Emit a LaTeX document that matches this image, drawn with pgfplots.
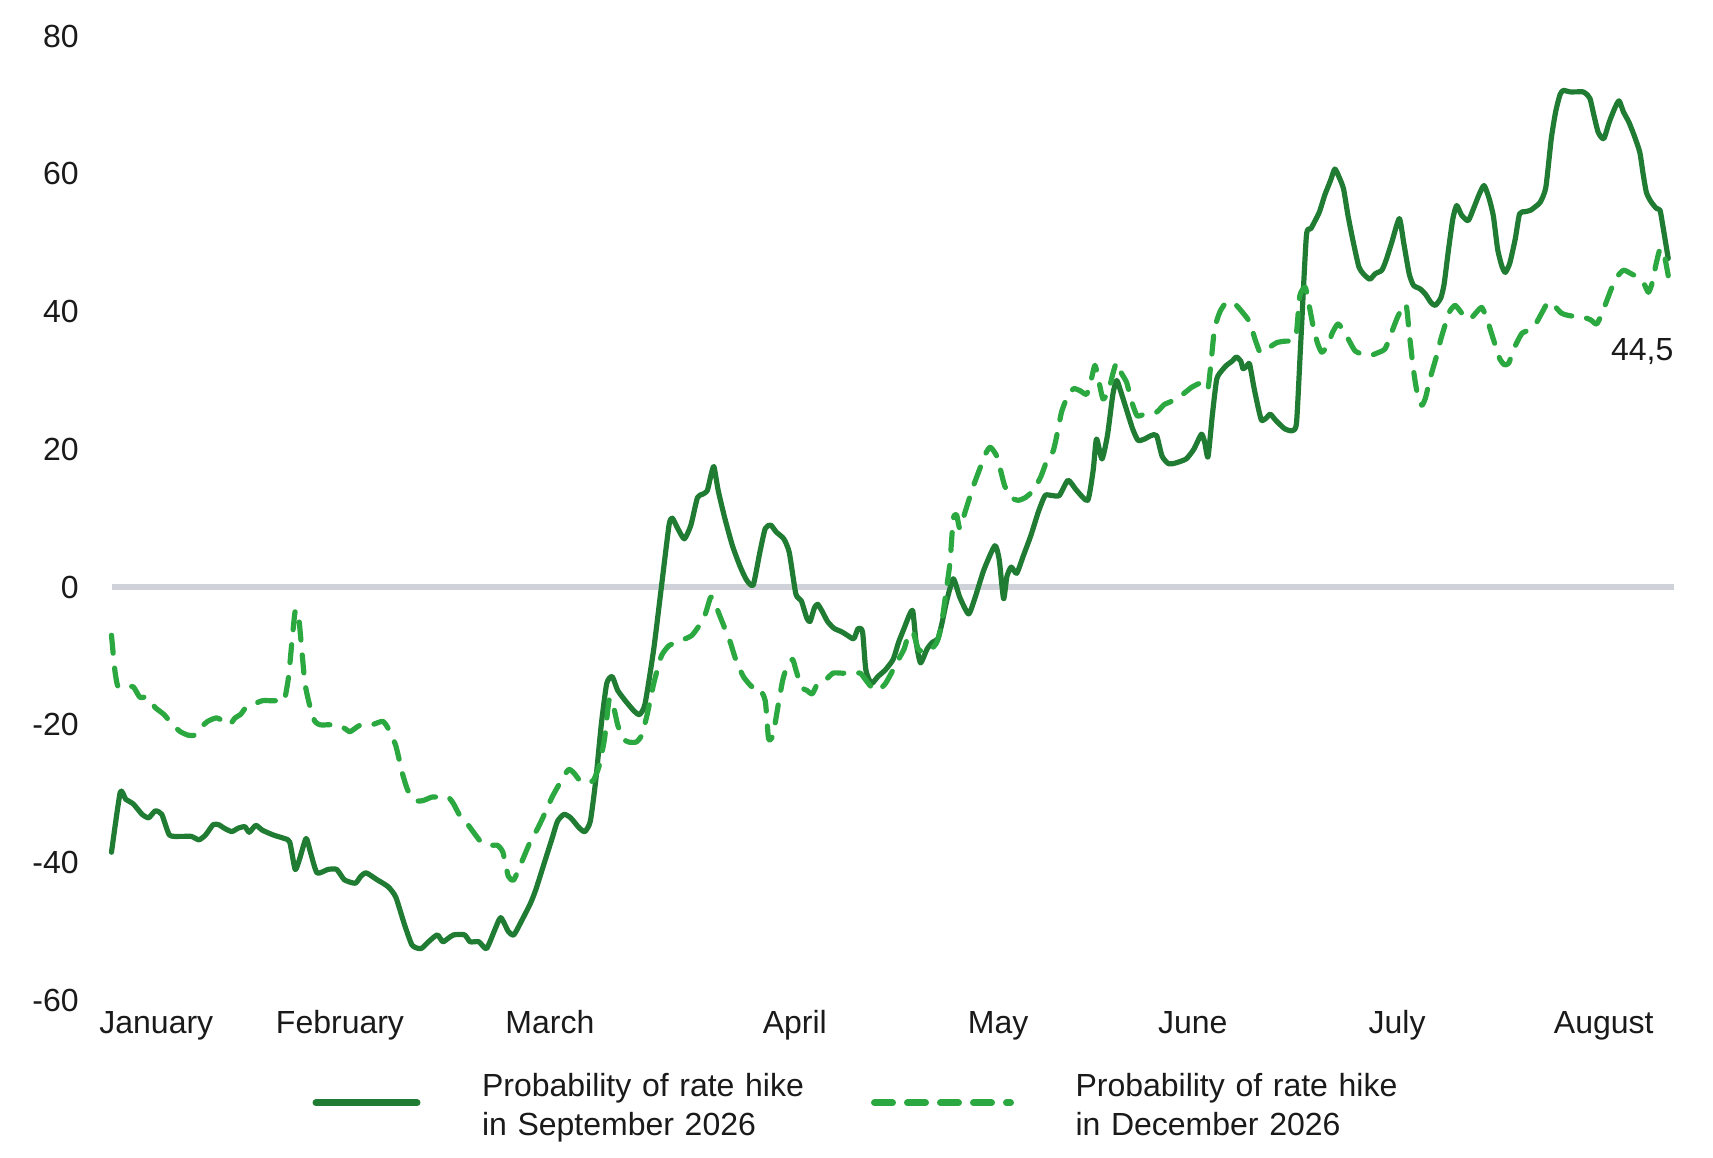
\documentclass[border=0pt]{standalone}
\usepackage{fontspec}
\setmainfont{Liberation Sans}
\usepackage{pgfplots}
\pgfplotsset{compat=1.18}
\definecolor{darkg}{HTML}{217C33}
\definecolor{lightg}{HTML}{2BA83F}
\definecolor{zerog}{HTML}{CFD3D9}
\definecolor{txt}{HTML}{1A1A1A}
\newcommand{\chartfont}{\fontsize{16}{19.2}\selectfont}
\begin{document}
\chartfont
\begin{tikzpicture}
\useasboundingbox (0,0) rectangle (856.5pt,578.5pt);
\begin{axis}[
  at={(55.75pt,78.35pt)}, anchor=south west,
  scale only axis, width=781.1pt, height=482.1pt,
  xmin=102, xmax=1531, ymin=-60, ymax=80,
  axis line style={draw=none}, tick style={draw=none}, major tick length=0pt,
  xtick={143,311,503,727,913,1091,1278,1467},
  xticklabels={January,February,March,April,May,June,July,August},
  ytick={-60,-40,-20,0,20,40,60,80},
  yticklabels={-60,-40,-20,0,20,40,60,80},
  tick label style={font=\chartfont, text=txt, inner sep=0pt},
  xticklabel style={anchor=base, yshift=-16.5pt},
  yticklabel style={anchor=east, xshift=-16.25pt},
  extra y ticks={0}, extra y tick labels={},
  extra y tick style={grid=major, major grid style={zerog, line width=3pt}},
  clip=false,
  legend columns=2,
  legend style={at={(axis description cs:0.12866,-0.076)}, anchor=north west,
    draw=none, fill=none, inner sep=0pt, outer sep=0pt,
    cells={anchor=base west},
    nodes={inner sep=0pt, text width=176pt, align=left, anchor=base west, text=txt, font=\chartfont},
    /tikz/every odd column/.style={column sep=30.75pt},
    /tikz/every even column/.style={column sep=18.5pt}},
]
\addplot[darkg, line width=2.6pt, line join=round, line cap=round, smooth, tension=0.35,
  legend image code/.code={\draw[darkg, line width=3.5pt, line cap=round] (0pt,-3pt) -- (50.5pt,-3pt);}]
  table {
102 -38.5
110 -29.8
115 -30.8
122 -31.5
130 -33
136 -33.5
142 -32.5
148 -33
155 -36
165 -36.2
175 -36.2
182 -36.7
188 -36
195 -34.5
200 -34.5
205 -35
212 -35.5
218 -35
224 -34.8
228 -35.6
234 -34.6
240 -35.3
250 -36
260 -36.5
265 -37
270 -41
274 -39.5
280 -36.5
284 -38.5
290 -41.5
300 -41
308 -41
315 -42.5
325 -43
330 -42
335 -41.5
345 -42.5
355 -43.5
362 -45
370 -49
377 -52
385 -52.5
392 -51.5
400 -50.5
405 -51.5
410 -51
415 -50.5
425 -50.5
430 -51.5
438 -51.5
445 -52.5
452 -50
458 -48
465 -50
470 -50.5
477 -48.5
485 -46
490 -44
498 -40
505 -36.5
510 -34
516 -33
522 -33.5
530 -35
535 -35.5
540 -34
545 -28
550 -20
555 -14
560 -13
565 -15
572 -16.5
580 -18
585 -18.5
590 -17
598 -9
605 0
612 9
615 10
620 8.5
626 7
632 9
638 13
643 13.5
647 14
650 16
653 17.5
657 14
663 10
670 6
677 3
683 1
689 0.3
695 5
700 8.5
705 9
710 8
717 7
722 5
728 -1
733 -2
738 -4.5
741 -5
745 -3
748 -2.5
752 -3.5
757 -5
763 -6
770 -6.5
775 -7
781 -7.5
785 -6
789 -6.5
792 -12
797 -14
803 -13
810 -12
817 -10.5
822 -8
827 -6
832 -4
835 -3.5
838 -8
842 -11
848 -9
853 -8
858 -7.5
862 -5
866 -2
872 1.2
878 -1.5
886 -3.9
892 -1.5
900 2.5
910 6
914 4
918 -1.7
921 1.5
925 2.9
930 2
936 4.5
943 7.5
950 11
956 13.3
962 13.3
969 13.3
977 15.5
985 14
995 12.6
1000 17
1003 21.5
1008 18.6
1013 22
1018 28
1021.5 30
1025 28.5
1030 26
1036 23
1041 21.3
1047 21.5
1053 22
1058 22
1063 19
1069 17.9
1075 18
1085 18.6
1092 20
1099 22.2
1102 21
1105 18.9
1109 25
1113 30.2
1118 31.5
1122 32.2
1127 32.8
1131 33.4
1135 32.8
1137 31.7
1140 32
1143 32.4
1147 29
1151 26
1154 24.2
1158 24.5
1162 25.1
1167 24.2
1175 23
1182 22.7
1186 23.9
1190 36
1195 51
1199 52
1203 53.2
1207 54.5
1212 57
1217 59
1221 60.7
1225 59.5
1229 57.8
1233 54
1238 50
1243 46.5
1247 45.5
1253 44.7
1258 45.5
1264 46
1268 47.5
1273 50
1280 53.5
1284 50
1289 45.5
1293 43.8
1299 43.3
1304 42.5
1309 41.3
1313 40.9
1318 42
1321 44
1325 49
1329 53.5
1332.5 55.4
1337 54
1343 53.2
1348 55
1353 57
1357.5 58.3
1362 56.5
1366 53.9
1370 49
1374 46.5
1377 45.7
1381 47
1386 50.5
1390 54.2
1395 54.5
1400 54.7
1405 55.3
1409 55.9
1414 58
1419 65.1
1423 69
1427 71.5
1430 72.1
1436 71.9
1442 71.9
1448 71.9
1451 71.6
1454.5 70.9
1458 68.5
1462 66
1467 65.1
1472 67.5
1477 69.5
1481 70.6
1485 69
1490 67.5
1495 65.5
1500 63.1
1503 60
1506 57.3
1510 56
1515 55
1518.5 54.7
1521 52.5
1526 47.7
};
\addlegendentry{Probability of rate hike\\in September 2026}
\addplot[lightg, line width=2.6pt, line join=round, line cap=round, dash pattern=on 9pt off 7.5pt, smooth, tension=0.35,
  legend image code/.code={\draw[lightg, line width=3.5pt, line cap=round, dash pattern=on 9pt off 7.5pt] (0pt,-3pt) -- (68pt,-3pt);}]
  table {
102 -7
105 -12
108 -14.5
115 -14.5
122 -14.5
128 -16
135 -16
142 -17.5
150 -18.5
158 -20
165 -21
172 -21.5
178 -21.5
183 -20.5
190 -19.5
198 -19
205 -19.5
210 -20
215 -19
220 -18.5
225 -17.5
232 -17
240 -16.5
248 -16.5
255 -16.5
260 -16.5
264 -13
267 -8
270 -3.5
273 -4
276 -9
279 -14
283 -17
288 -19.5
293 -20
300 -20
308 -20
315 -20.5
320 -21
325 -20.5
330 -20
340 -20
350 -19.5
355 -20.5
362 -23
368 -27
373 -29.5
380 -31
387 -31
395 -30.5
402 -30.5
410 -30.5
415 -31.5
420 -33
428 -34.5
435 -36
440 -37
447 -37.5
455 -37.5
460 -38.5
465 -42
470 -42.5
477 -40
485 -37
492 -35
498 -33
505 -30.5
512 -28.5
520 -26.5
525 -27
530 -28
537 -28.5
543 -28
548 -26
553 -22
557 -16.5
560 -16.5
565 -20
570 -22
575 -22.5
582 -22.5
587 -21.5
592 -18.5
598 -14
605 -10
612 -8.5
620 -8
627 -7.5
633 -7
640 -5.5
645 -4
650 -1.5
653 -2
658 -4
663 -6
668 -8
673 -10.5
680 -13
688 -14.5
694 -14.5
700 -16.5
703 -22
707 -21.5
712 -17
716 -13.5
720 -11.5
725 -10.5
728 -12
733 -14.5
738 -15
743 -15.5
748 -14
755 -13.5
762 -12.5
770 -12.5
777 -12.5
782 -12.5
787 -12.5
792 -13.5
797 -14.5
803 -15
810 -14
817 -12
822 -10.5
827 -9
830 -7.5
835 -6.5
840 -9
847 -9.5
852 -9
857 -8
861 -5.6
866 0
869 3.6
872 9.9
875 10.5
878 8.5
883 11
890 14.5
897 17.5
902 19.5
906 20.3
912 18.9
919 14.7
925 13
931.5 12.6
938 13
945 14
952 16
958 18.5
963.5 19.8
968 23
971 25.4
976 27.5
982 28.8
988 28.5
994 28
998 30
1001.6 32.2
1005 30
1009 27.3
1014 28.5
1018 31
1021.5 32.6
1026 31
1030.6 29.7
1035 27
1040 24.9
1045 25
1050 25.2
1058 25.4
1065 26.5
1072 27
1082 28
1090 29
1096 29.5
1100.7 29.7
1105 28.8
1108 33
1111 37.5
1116 40
1122 41.4
1127 41.2
1131 40.9
1137 39.8
1143 38.5
1148 36
1152.6 34.1
1158 34.6
1163 35
1168 35.5
1175 35.7
1183 35.8
1186 37
1189 42.3
1194 43.5
1198 40.5
1201 38
1205 35.5
1209 34.1
1214 35
1219 37
1224 38.2
1230 37
1235 35.5
1239.5 34.3
1246 33.8
1253 33.6
1260 34
1267 34.6
1273 37
1279 39.4
1286 41.1
1289 37
1292.8 31.7
1296 28.5
1300.5 26.4
1304 27.5
1308 30.2
1314 33.5
1318 36
1321.8 38
1326 40
1331 40.9
1336 40
1340 39.2
1344.7 38.9
1350 39.8
1355.4 40.6
1360 39
1364 37
1368 35
1372 33.1
1376 32.3
1380 32.5
1386 35
1392 36.8
1398 37.3
1404 38
1410 39.7
1416.3 41.4
1422 40.8
1428 39.8
1433 39.5
1440 39.3
1448 39.2
1455 38.8
1460.6 38.2
1466 40
1472.7 42.8
1478 44.8
1485 46
1492 45.5
1500 44.8
1504 44
1507.8 42.8
1511 44
1515 47
1518.5 49.1
1522 48.5
1526 45.2
};
\addlegendentry{Probability of rate hike\\in December 2026}
\node[anchor=base east, inner sep=0pt, text=txt, font=\chartfont] at (axis cs:1531,32.9) {44,5};
\end{axis}
\end{tikzpicture}
\end{document}
